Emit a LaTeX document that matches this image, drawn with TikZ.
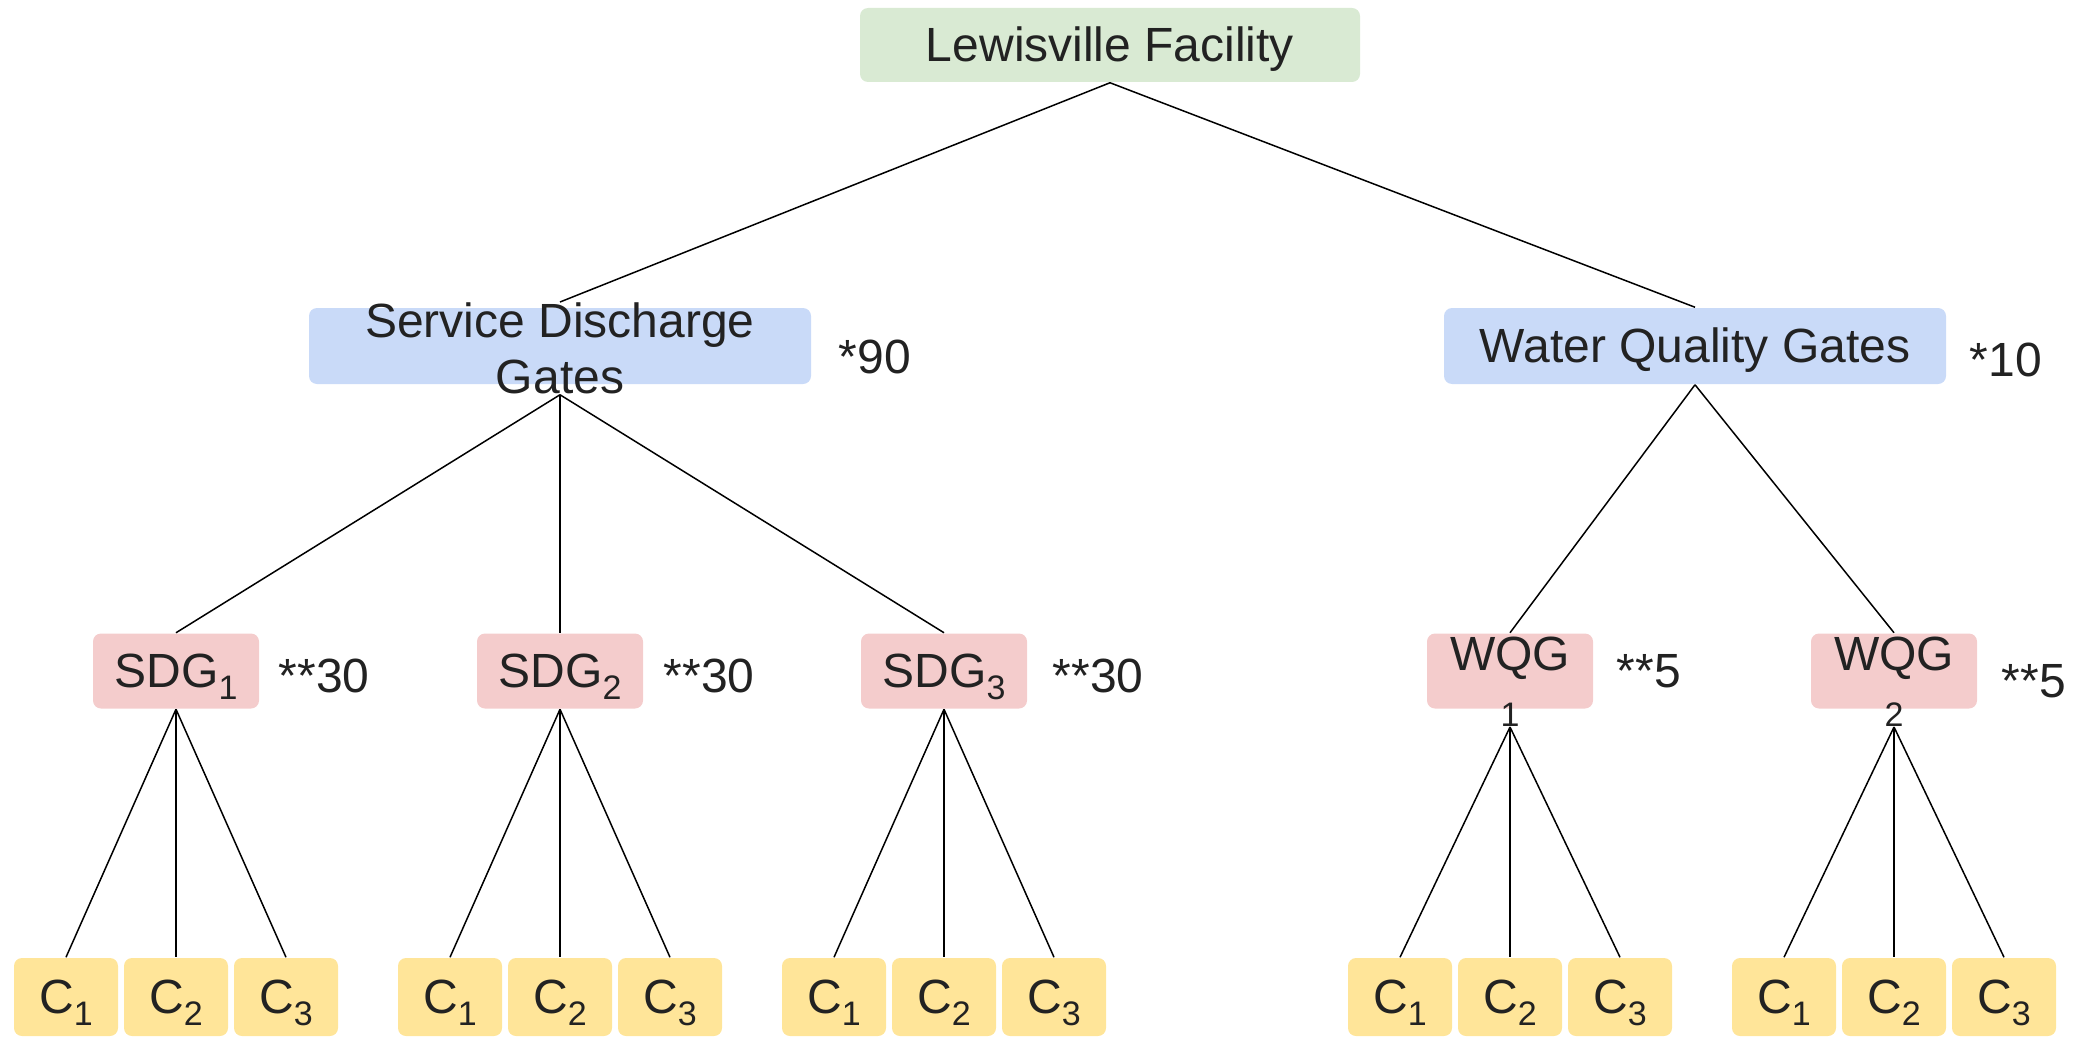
\documentclass[tikz,border=0pt]{standalone}
\usepackage{fontspec}
\setmainfont{Liberation Sans}
\definecolor{boxgreen}{HTML}{D9EAD3}
\definecolor{boxblue}{HTML}{C9DAF8}
\definecolor{boxred}{HTML}{F4CCCC}
\definecolor{boxyellow}{HTML}{FFE599}
\definecolor{inkgray}{HTML}{222222}
\newcommand\sbs[1]{\raisebox{-0.25em}{\fontsize{17}{17}\selectfont #1}}
\tikzset{every picture/.style={line width=0.75pt}}
\tikzset{
	roundbox/.style={rounded corners=4pt, inner sep=0pt, text=inkgray, font=\fontsize{24}{28}\selectfont, text height=19pt, text depth=2.5pt},
	facility/.style={roundbox, fill=boxgreen, minimum width=250pt, minimum height=37pt},
	gates/.style={roundbox, fill=boxblue, minimum width=251pt, minimum height=38pt},
	gate/.style={roundbox, fill=boxred, minimum width=83pt, minimum height=37.5pt},
	cbox/.style={roundbox, fill=boxyellow, minimum width=52pt, minimum height=39pt},
	freetext/.style={inner sep=0pt, text=inkgray, font=\fontsize{24}{28}\selectfont, align=center},
	mult/.style={freetext, anchor=west}
}

\begin{document}
\begin{tikzpicture}[x=0.5pt,y=0.5pt,yscale=-1,xscale=1]
	\path (0,0) rectangle (2075,1038); %picture frame

	%Shape: Facility
	\node[facility] (lew) at (1110,45) {Lewisville Facility};

	%Shape: Gates
	\node[gates] (sdg) at (560,346) {};
	\node[freetext, anchor=north] (sdgtxt) at (560,302) {Service Discharge\\Gates};
	\node[gates] (wqg) at (1695,346) {Water Quality Gates};
	% Text Node
	\node[mult] (sdgm) at (838,357) {*90};
	% Text Node
	\node[mult] (wqgm) at (1969,360) {*10};

	%Shape: Gate
	\node[gate] (sdg1) at (176,671) {SDG\sbs{1}};
	\node[gate] (sdg2) at (560,671) {SDG\sbs{2}};
	\node[gate] (sdg3) at (944,671) {SDG\sbs{3}};
	\node[gate] (wqg1) at (1510,671) {};
	\node[freetext, anchor=north] (wqgtxt1) at (1510,636) {WQG\\{\fontsize{17}{17}\selectfont 1}};
	\node[gate] (wqg2) at (1894,671) {};
	\node[freetext, anchor=north] (wqgtxt2) at (1894,636) {WQG\\{\fontsize{17}{17}\selectfont 2}};
	% Text Node
	\node[mult] (sdgm1) at (278,676) {**30};
	\node[mult] (sdgm2) at (663,676) {**30};
	\node[mult] (sdgm3) at (1052,676) {**30};
	\node[mult] (wqgm1) at (1616,671) {**5};
	\node[mult] (wqgm2) at (2001,681) {**5};

	%Shape: Components
	\node[cbox] (sdg1c1) at (66,997) {C\sbs{1}};
	\node[cbox] (sdg1c2) at (176,997) {C\sbs{2}};
	\node[cbox] (sdg1c3) at (286,997) {C\sbs{3}};
	\node[cbox] (sdg2c1) at (450,997) {C\sbs{1}};
	\node[cbox] (sdg2c2) at (560,997) {C\sbs{2}};
	\node[cbox] (sdg2c3) at (670,997) {C\sbs{3}};
	\node[cbox] (sdg3c1) at (834,997) {C\sbs{1}};
	\node[cbox] (sdg3c2) at (944,997) {C\sbs{2}};
	\node[cbox] (sdg3c3) at (1054,997) {C\sbs{3}};
	\node[cbox] (wqg1c1) at (1400,997) {C\sbs{1}};
	\node[cbox] (wqg1c2) at (1510,997) {C\sbs{2}};
	\node[cbox] (wqg1c3) at (1620,997) {C\sbs{3}};
	\node[cbox] (wqg2c1) at (1784,997) {C\sbs{1}};
	\node[cbox] (wqg2c2) at (1894,997) {C\sbs{2}};
	\node[cbox] (wqg2c3) at (2004,997) {C\sbs{3}};

	%Straight Lines
	\draw (lew.south) -- (sdgtxt.north);
	\draw (lew.south) -- (wqg.north);
	\draw (sdgtxt.south) -- (sdg1.north);
	\draw (sdgtxt.south) -- (sdg2.north);
	\draw (sdgtxt.south) -- (sdg3.north);
	\draw (wqg.south) -- (wqg1.north);
	\draw (wqg.south) -- (wqg2.north);
	%Straight Lines
	\draw (sdg1.south) -- (sdg1c1.north);
	\draw (sdg1.south) -- (sdg1c2.north);
	\draw (sdg1.south) -- (sdg1c3.north);
	\draw (sdg2.south) -- (sdg2c1.north);
	\draw (sdg2.south) -- (sdg2c2.north);
	\draw (sdg2.south) -- (sdg2c3.north);
	\draw (sdg3.south) -- (sdg3c1.north);
	\draw (sdg3.south) -- (sdg3c2.north);
	\draw (sdg3.south) -- (sdg3c3.north);
	\draw (wqgtxt1.south) -- (wqg1c1.north);
	\draw (wqgtxt1.south) -- (wqg1c2.north);
	\draw (wqgtxt1.south) -- (wqg1c3.north);
	\draw (wqgtxt2.south) -- (wqg2c1.north);
	\draw (wqgtxt2.south) -- (wqg2c2.north);
	\draw (wqgtxt2.south) -- (wqg2c3.north);

\end{tikzpicture}
\end{document}
